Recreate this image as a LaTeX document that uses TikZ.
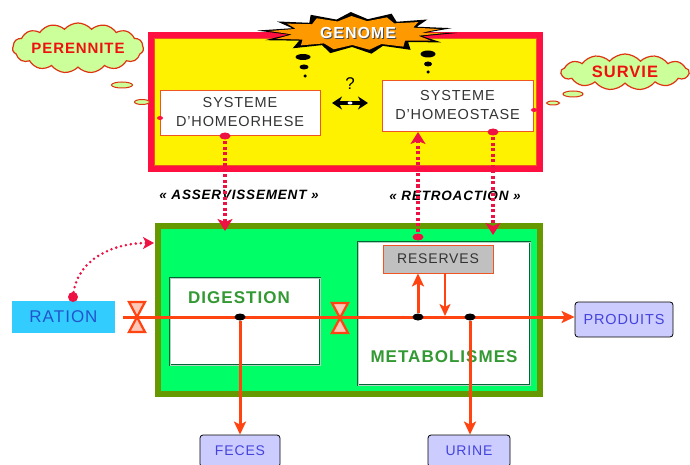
\documentclass[tikz,border=0pt]{standalone}
\usepackage{fontspec}
\setmainfont{Liberation Sans}[LetterSpace=6]
\usetikzlibrary{shapes.geometric,shapes.symbols,arrows.meta}
\definecolor{bred}{HTML}{FF1040}
\definecolor{dred}{HTML}{EE1144}
\definecolor{gorange}{HTML}{FF9900}
\definecolor{cgreen}{HTML}{CCFF99}
\definecolor{cred}{HTML}{DD3311}
\definecolor{tred}{HTML}{EE1111}
\definecolor{gfill}{HTML}{00FF66}
\definecolor{olive}{HTML}{669900}
\definecolor{dgreen}{HTML}{006633}
\definecolor{tgreen}{HTML}{339933}
\definecolor{flowc}{HTML}{FF4411}
\definecolor{rcyan}{HTML}{33CCFF}
\definecolor{rblue}{HTML}{2255CC}
\definecolor{lav}{HTML}{CCCCFF}
\definecolor{lavtxt}{HTML}{4444DD}
\definecolor{resgray}{HTML}{C0C0C0}
\definecolor{orgline}{HTML}{EE5522}
\definecolor{txtgray}{HTML}{333333}
\begin{document}
\begin{tikzpicture}[x=1pt,y=-1pt,
  sysbox/.style={draw=orgline, line width=0.8pt, fill=white, inner sep=0, align=center,
    font=\fontsize{14.5}{19}\selectfont, text=txtgray},
  cloudbox/.style={cloud, cloud ignores aspect, cloud puffs=15, cloud puff arc=100, draw=cred, line width=1.2pt,
    fill=cgreen, inner sep=0, text=tred, font=\bfseries\fontsize{15}{15}\selectfont},
  bubble/.style={ellipse, draw=cred, line width=1pt, fill=cgreen, inner sep=0},
  redmark/.style={ellipse, fill=bred, inner sep=0, minimum width=6pt, minimum height=4pt},
  tdot/.style={ellipse, fill=black, inner sep=0},
  blob/.style={ellipse, fill=dred, inner sep=0, minimum width=11pt, minimum height=7pt},
  dotarr/.style={draw=dred, line width=4.5pt, dash pattern=on 3pt off 2.5pt,
    -{Stealth[length=12pt,width=15pt,inset=3pt]}},
  lbl/.style={font=\bfseries\itshape\fontsize{13.5}{13.5}\selectfont, inner sep=0},
  subbox/.style={draw=dgreen, line width=0.7pt, double=white!70!dgreen, double distance=0.8pt,
    fill=white, inner sep=0},
  subtxt/.style={text=tgreen, font=\bfseries\fontsize{17}{17}\selectfont, inner sep=0},
  flow/.style={draw=flowc, line width=3pt},
  flowarr/.style={flow, -{Stealth[length=13pt,width=12pt,inset=3pt]}},
  jdot/.style={ellipse, fill=black, inner sep=0, minimum width=11pt, minimum height=7pt},
  outbox/.style={draw=black, line width=0.8pt, rounded corners=3pt, fill=lav, text=lavtxt,
    inner sep=0, font=\fontsize{14}{14}\selectfont},
  valve/.style={draw=flowc, line width=2.2pt, fill=white!70!flowc, line join=miter}
]
\useasboundingbox (0,0) rectangle (690,465);
\fill[white] (0,0) rectangle (690,465);

% ---- top yellow box
\node[draw=bred, line width=6pt, fill=yellow, minimum width=389pt, minimum height=134pt, inner sep=0] (ybox) at (345.5,102) {};
\node[draw=orgline, line width=0.8pt, minimum width=382.5pt, minimum height=127.5pt, inner sep=0] (yin) at (345.5,102) {};

% genome burst
\fill[black] (457,33) \foreach \i in {1,...,27}{
  -- ({356+ifthenelse(mod(\i,2)==0,101-12*abs(sin(\i*13.333)),68)*cos(\i*13.333)},
      {33+ifthenelse(mod(\i,2)==0,21,14)*sin(\i*13.333)})} -- cycle;
\fill[gorange] (445,33) \foreach \i in {1,...,27}{
  -- ({356+ifthenelse(mod(\i,2)==0,89-12*abs(sin(\i*13.333)),64)*cos(\i*13.333)},
      {33+ifthenelse(mod(\i,2)==0,17,12)*sin(\i*13.333)})} -- cycle;
\node[inner sep=0, text=black!70, font=\bfseries\fontsize{16}{16}\selectfont] (genomesh) at (359,34) {GENOME};
\node[inner sep=0, text=white, font=\bfseries\fontsize{16}{16}\selectfont] (genome) at (358,33) {GENOME};
\node[tdot, minimum width=15pt, minimum height=6pt] (gl1) at (303,57) {};
\node[tdot, minimum width=9pt, minimum height=5pt] (gl2) at (304,67) {};
\node[tdot, minimum width=3.5pt, minimum height=3.5pt] (gl3) at (305,76) {};
\node[tdot, minimum width=15pt, minimum height=7pt] (gr1) at (428,54) {};
\node[tdot, minimum width=8pt, minimum height=5pt] (gr2) at (428,64) {};
\node[tdot, minimum width=3.5pt, minimum height=3.5pt] (gr3) at (428,72) {};

% systems
\node[sysbox, minimum width=160pt, minimum height=45pt] (horh) at (240,112.5) {SYSTEME\\D’HOMEORHESE};
\node[sysbox, minimum width=151pt, minimum height=51pt] (host) at (457.5,105.5) {SYSTEME\\D’HOMEOSTASE};
\node[font=\fontsize{17}{17}\selectfont, inner sep=0] (qm) at (350,84) {?};
\coordinate (dl) at (332,103);
\coordinate (dr) at (368,103);
\draw[black, line width=4pt, {Stealth[length=10pt,width=13pt]}-{Stealth[length=10pt,width=13pt]}] (dl) -- (dr);
\node[ellipse, fill=white, inner sep=0, minimum width=5pt, minimum height=3pt] (dc) at (350,103) {};

% clouds
\node[cloudbox, minimum width=131pt, minimum height=50pt] (peren) at (78,48) {PERENNITE};
\node[bubble, minimum width=21pt, minimum height=6pt] (pb1) at (122,85) {};
\node[bubble, minimum width=15pt, minimum height=5pt] (pb2) at (142,102) {};
\node[redmark] (pm) at (160,118) {};
\node[cloudbox, minimum width=128pt, minimum height=36pt, cloud puffs=13,
  font=\bfseries\fontsize{16.5}{16.5}\selectfont] (surv) at (625,72) {SURVIE};
\node[bubble, minimum width=20pt, minimum height=6pt] (sb1) at (573,94) {};
\node[bubble, minimum width=13pt, minimum height=4pt] (sb2) at (553,103) {};
\node[redmark] (sm) at (534,110) {};

% ---- green box
\node[draw=olive, line width=6pt, fill=gfill, minimum width=382pt, minimum height=168pt, inner sep=0] (green) at (349,310) {};
\node[subbox, minimum width=150pt, minimum height=87pt] (dig) at (245,321.5) {};
\node[subtxt] (digt) at (239,298) {DIGESTION};
\node[subbox, minimum width=172pt, minimum height=143pt] (met) at (444,313.5) {};
\node[subtxt] (mett) at (444,357) {METABOLISMES};
\node[draw=orgline, line width=0.8pt, fill=resgray, minimum width=110pt, minimum height=28pt,
  inner sep=0, text=txtgray, font=\fontsize{14}{14}\selectfont] (res) at (438,259) {RESERVES};

% labels
\node[lbl] (asv) at (239,195) {« ASSERVISSEMENT »};
\node[lbl] (retro) at (455,196) {« RETROACTION »};

% dotted arrows
\coordinate (a1s) at (225,136);
\coordinate (a1e) at (225,231);
\draw[dotarr] (a1s) -- (a1e);
\node[blob] (b1) at (a1s) {};
\coordinate (a2s) at (418,237);
\coordinate (a2e) at (418,132);
\draw[dotarr] (a2s) -- (a2e);
\node[blob] (b2) at (a2s) {};
\coordinate (a3s) at (493,132);
\coordinate (a3e) at (493,235);
\draw[dotarr] (a3s) -- (a3e);
\node[blob] (b3) at (a3s) {};

% ration
\node[fill=rcyan, minimum width=103pt, minimum height=32pt, inner sep=0, text=rblue,
  font=\fontsize{17}{17}\selectfont] (ration) at (63.5,317) {RATION};
\coordinate (rs) at (73,297);
\coordinate (re) at (154,243);
\draw[draw=dred, line width=2.8pt, line cap=round, dash pattern=on 0pt off 5pt,
  -{Stealth[length=11pt,width=12pt,inset=3pt]}] (rs) .. controls (76,258) and (115,243) .. (re);
\node[blob, minimum width=10pt, minimum height=10pt] (rb) at (rs) {};

% outputs
\node[outbox, minimum width=98pt, minimum height=35pt, font=\fontsize{14.5}{14.5}\selectfont] (prod) at (624,319.5) {PRODUITS};
\node[outbox, minimum width=80pt, minimum height=32pt] (fec) at (240,451) {FECES};
\node[outbox, minimum width=82pt, minimum height=32pt] (uri) at (469,451) {URINE};

% main flow
\coordinate (L) at (123,317);
\draw[flowarr] (L) -- (L -| prod.west);
\node[jdot] (j1) at (240,317) {};
\node[jdot] (j2) at (418,317) {};
\node[jdot] (j3) at (470,317) {};
\draw[flowarr] (j1) -- (j1 |- fec.north);
\draw[flowarr] (j3) -- (j3 |- uri.north);
\draw[flowarr] (j2) -- (j2 |- res.south);
\coordinate (rd) at (445,273);
\coordinate (rdj) at (445,316);
\draw[draw=flowc, line width=2pt, -{Stealth[length=12pt,width=11pt,inset=3pt]}] (rd) -- (rdj);

% valves
\draw[valve] (129,302) -- (145,302) -- (137,317) -- cycle;
\draw[valve] (129,332) -- (145,332) -- (137,317) -- cycle;
\draw[valve] (332,303) -- (348,303) -- (340,318) -- cycle;
\draw[valve] (332,333) -- (348,333) -- (340,318) -- cycle;
\end{tikzpicture}
\end{document}
